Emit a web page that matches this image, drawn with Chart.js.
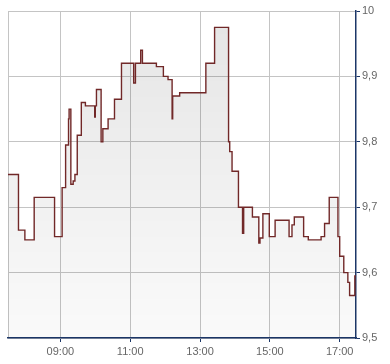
<!DOCTYPE html>
<html>
<head>
<meta charset="utf-8">
<script src="https://cdn.jsdelivr.net/npm/chart.js@4/dist/chart.umd.min.js"></script>
<style>
  html, body { margin: 0; padding: 0; background: #fff; }
  #wrap { width: 390px; height: 364px; }
</style>
</head>
<body>
<div id="wrap"><canvas id="priceChart" width="390" height="364"></canvas></div>
<script>
// intraday quotes, time of each step and the new price
const times = ['07:30', '07:48', '07:59', '08:15', '08:50', '09:03', '09:09', '09:14', '09:15', '09:18',
  '09:22', '09:25', '09:29', '09:36', '09:43', '09:59', '10:00', '10:02', '10:10', '10:13',
  '10:22', '10:33', '10:45', '11:06', '11:09', '11:18', '11:21', '11:45', '11:57', '12:05',
  '12:12', '12:13', '12:25', '13:10', '13:25', '13:49', '13:51', '13:55', '14:06', '14:13',
  '14:15', '14:30', '14:41', '14:43', '14:48', '14:59', '15:09', '15:33', '15:38', '15:42',
  '15:58', '16:06', '16:28', '16:34', '16:42', '16:57', '17:00', '17:07', '17:14', '17:17',
  '17:26', '17:28'];
const prices = [9.75, 9.665, 9.65, 9.715, 9.655, 9.73, 9.795, 9.835, 9.85, 9.735,
  9.74, 9.75, 9.81, 9.86, 9.855, 9.838, 9.855, 9.88, 9.80, 9.82,
  9.835, 9.865, 9.92, 9.89, 9.92, 9.94, 9.92, 9.915, 9.90, 9.895,
  9.835, 9.87, 9.875, 9.92, 9.975, 9.80, 9.785, 9.755, 9.70, 9.66,
  9.70, 9.685, 9.645, 9.653, 9.69, 9.655, 9.68, 9.655, 9.673, 9.685,
  9.655, 9.65, 9.655, 9.675, 9.715, 9.655, 9.625, 9.60, 9.585, 9.565,
  9.595, 9.595];
const xTickLabels = ['09:00', '11:00', '13:00', '15:00', '17:00'];
const yTickValues = [9.5, 9.6, 9.7, 9.8, 9.9, 10];
const xStart = '07:30';
const xEnd = '17:28';

const toMin = (s) => {
  const p = s.split(':');
  return parseInt(p[0], 10) * 60 + parseInt(p[1], 10);
};
const pad = (n) => (n < 10 ? '0' : '') + n;
const fmtTime = (m) => pad(Math.floor(m / 60)) + ':' + pad(m % 60);

const navy = '#1c3768';
const gridGray = '#c4c4c4';
const labelGray = '#666666';

const points = times.map((t, i) => ({ x: toMin(t), y: prices[i] }));
const xTicks = [toMin(xStart)].concat(xTickLabels.map(toMin));

const ctx = document.getElementById('priceChart').getContext('2d');
new Chart(ctx, {
  type: 'line',
  data: {
    datasets: [{
      data: points,
      stepped: true,
      borderColor: '#712828',
      borderWidth: 1.4,
      pointRadius: 0,
      fill: 'start',
      backgroundColor: (c) => {
        const area = c.chart.chartArea;
        if (!area) return 'rgba(0,0,0,0.06)';
        const g = c.chart.ctx.createLinearGradient(0, area.top, 0, area.bottom);
        g.addColorStop(0, 'rgba(0,0,0,0.10)');
        g.addColorStop(1, 'rgba(0,0,0,0.02)');
        return g;
      }
    }]
  },
  options: {
    responsive: false,
    animation: false,
    layout: { padding: { left: 8, top: 11, right: 0, bottom: 0 } },
    plugins: { legend: { display: false }, tooltip: { enabled: false } },
    scales: {
      x: {
        type: 'linear',
        min: toMin(xStart),
        max: toMin(xEnd),
        afterBuildTicks: (axis) => { axis.ticks = xTicks.map((v) => ({ value: v })); },
        afterFit: (axis) => { axis.height = 26; },
        grid: {
          color: gridGray,
          lineWidth: 1,
          tickLength: 4,
          tickColor: (c) => (c.tick && c.tick.value === toMin(xStart) ? 'rgba(0,0,0,0)' : navy)
        },
        border: { display: true, color: navy, width: 1.5 },
        ticks: {
          autoSkip: false,
          maxRotation: 0,
          padding: 3,
          color: labelGray,
          font: { family: 'Liberation Sans', size: 11 },
          callback: (v) => (v === toMin(xStart) ? '' : fmtTime(v))
        }
      },
      y: {
        position: 'right',
        min: 9.5,
        max: 10,
        afterBuildTicks: (axis) => { axis.ticks = yTickValues.map((v) => ({ value: v })); },
        afterFit: (axis) => { axis.width = 34; },
        grid: { color: gridGray, lineWidth: 1, tickLength: 4, tickColor: navy },
        border: { display: true, color: navy, width: 1.5 },
        ticks: {
          padding: 2,
          color: labelGray,
          font: { family: 'Liberation Sans', size: 11 },
          callback: (v) => String(Number(v.toFixed(1))).replace('.', ',')
        }
      }
    }
  }
});
</script>
</body>
</html>
